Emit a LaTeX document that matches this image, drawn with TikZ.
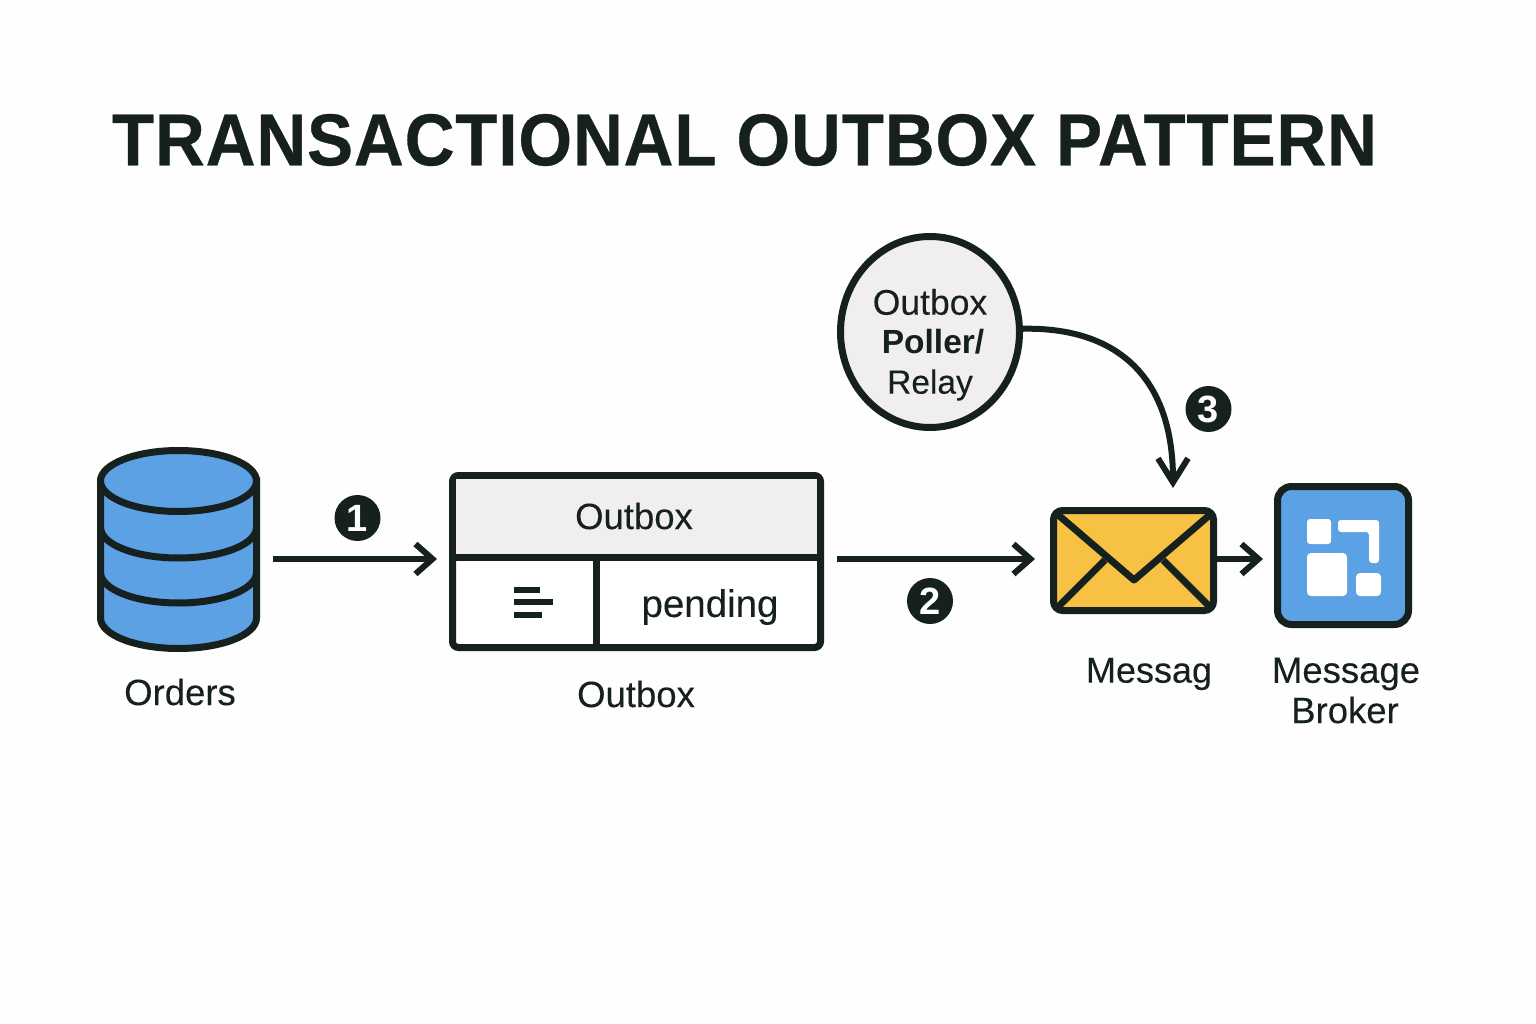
\documentclass[tikz,border=0pt]{standalone}
\usepackage{fontspec}
\setmainfont{Liberation Sans}[FakeBold=0.15]
\newfontfamily\titlefont{Liberation Sans}[UprightFont={* Bold},FakeStretch=0.94,FakeBold=0.4,LetterSpace=1.1]
\newfontfamily\boldfont{Liberation Sans}[UprightFont={* Bold}]
\usetikzlibrary{arrows.meta,shapes.geometric}
\definecolor{ink}{HTML}{15201F}
\definecolor{paper}{HTML}{FEFEFC}
\definecolor{sky}{HTML}{5BA1E3}
\definecolor{amber}{HTML}{F7C244}
\definecolor{shade}{HTML}{F0EFED}
\newcommand{\fs}[1]{\fontsize{#1}{#1}\selectfont}
\tikzset{
lbl/.style={text=ink,inner sep=0pt,font=\fs{36.5}},
arr/.style={draw=ink,line width=6pt,-{Straight Barb[length=17pt,width=30pt,line width=6pt]}},
badge/.style={circle,fill=ink,text=white,inner sep=0pt,minimum size=46pt,font=\fs{38}\boldfont},
cell/.style={inner sep=0pt},
}
\begin{document}
\begin{tikzpicture}
[x=1pt,y=-1pt]
\useasboundingbox[fill=paper] (0,0) rectangle (1536,1024);
\node[text=ink,inner sep=0pt,font=\fs{73.5}\titlefont] (title) at (744.5,140) {TRANSACTIONAL OUTBOX PATTERN};
\coordinate (row) at (0,559);
\node[inner sep=0pt,minimum width=188pt,minimum height=1pt] (db) at (179,559) {};
\fill[sky,draw=ink,line width=7pt] (100.5,481) -- (100.5,618) arc[start angle=180,end angle=0,x radius=78,y radius=30.5] -- (256.5,481) -- cycle;
\foreach \cy in {527.5,572.5}
\draw[ink,line width=7pt] (100.5,\cy) arc[start angle=180,end angle=0,x radius=78,y radius=30.5];
\draw[ink,fill=sky,line width=7pt] (178.5,481) ellipse[x radius=78,y radius=30.5];
\node[lbl] (orders) at (180,692) {Orders};
\node[cell,fill=white,draw=ink,line width=7pt,rounded corners=6pt,minimum width=368pt,minimum height=172pt] (tbl) at (636.5,561.5) {};
\node[cell,fill=shade,minimum width=361pt,minimum height=78pt] (hdr) at (636.5,518) {};
\node[cell,minimum width=140pt,minimum height=87pt] (idx) at (526,601.5) {};
\node[cell,minimum width=221pt,minimum height=87pt] (pend) at (706.5,601.5) {};
\draw[ink,line width=7pt] (hdr.south west) -- (hdr.south east);
\draw[ink,line width=7pt] (idx.north east) -- (idx.south east);
\node[lbl] (hdrtxt) at (634,516) {Outbox};
\node[lbl,font=\fs{38.5}] (pendtxt) at (710,607) {pending};
\foreach \yy/\xx in {590/540,602/553,615/542}
\draw[ink,line width=5.5pt] (514,\yy) -- (\xx,\yy);
\node[lbl] (outbox) at (636,694) {Outbox};
\node[ellipse,draw=ink,fill=shade,line width=7pt,inner sep=0pt,minimum width=179pt,minimum height=191pt] (pol) at (930,332) {};
\node[lbl,font=\fs{35.5}] (p1) at (930,302) {Outbox};
\node[lbl,font=\fs{33.5}\boldfont] (p2) at (933,342) {Poller/};
\node[lbl,font=\fs{33.5}] (p3) at (930,385) {Relay};
\node[draw=ink,fill=amber,line width=7pt,rounded corners=9pt,inner sep=0pt,minimum width=160pt,minimum height=100pt] (env) at (1133.5,560.5) {};
\draw[ink,line width=7pt,line join=round] (1056,513) -- (1134,580) -- (1212,513);
\draw[ink,line width=7pt] (1056,609) -- (1105,560);
\draw[ink,line width=7pt] (1212,609) -- (1163,560);
\node[lbl,font=\fs{36}] (msg) at (1149,674) {Messag};
\node[draw=ink,fill=sky,line width=7pt,rounded corners=14pt,inner sep=0pt,minimum width=131pt,minimum height=138pt] (brk) at (1343,555.5) {};
\fill[white,rounded corners=3pt] (1307,519) rectangle (1331,544);
\fill[white,rounded corners=4pt] (1307,553) rectangle (1347,596);
\fill[white,rounded corners=4pt] (1356,573) rectangle (1381,596);
\fill[white,rounded corners=3pt] (1338,520) -- (1379,520) -- (1379,563) -- (1369,563) -- (1369,532) -- (1338,532) -- cycle;
\node[lbl] (brk1) at (1346,674) {Message};
\node[lbl] (brk2) at (1345,710) {Broker};
\node[badge] (b1) at (357.5,518) {1};
\node[badge] (b2) at (930,601) {2};
\node[badge] (b3) at (1208.5,409) {3};
\coordinate (tip3) at (1173,488);
\draw[arr] (db.east) -- ([xshift=-12pt]db.east -| tbl.west);
\draw[arr] ([xshift=13pt]tbl.east |- row) -- ([xshift=-15pt]env.west |- row);
\draw[arr] (env.east |- row) -- ([xshift=-11pt]brk.west |- row);
\draw[arr,-{Straight Barb[length=24pt,width=30pt,line width=6pt]}] (pol.2) .. controls (1115,327) and (1173,375) .. (tip3);
\end{tikzpicture}
\end{document}
